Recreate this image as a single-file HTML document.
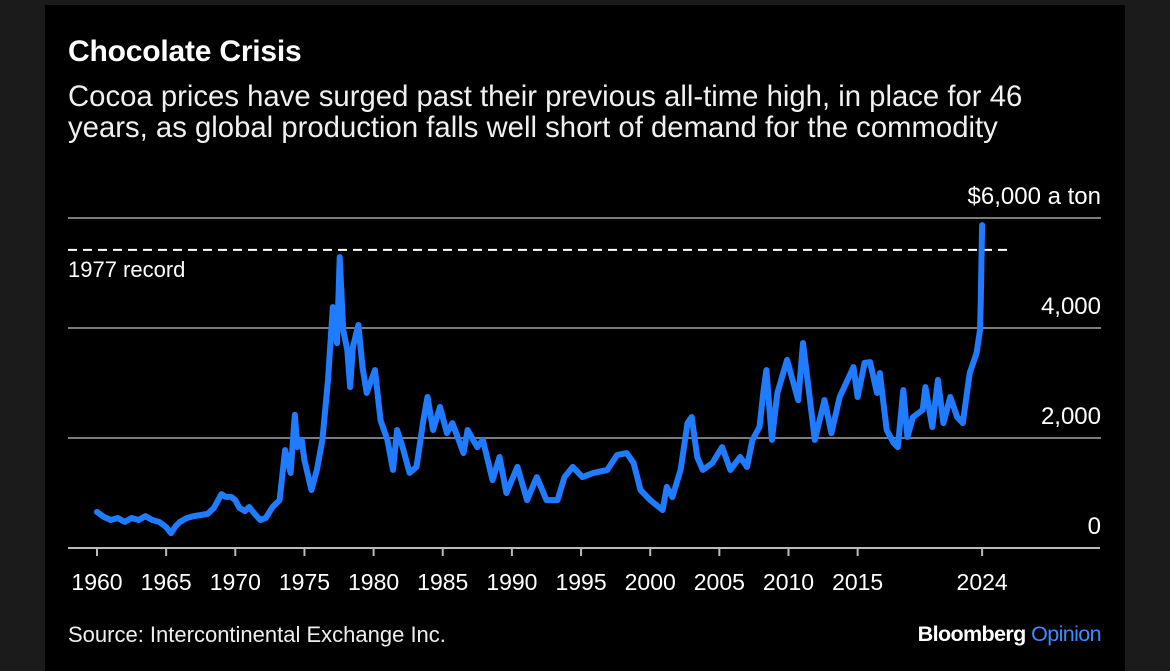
<!DOCTYPE html>
<html><head><meta charset="utf-8"><style>
body{margin:0;width:1170px;height:671px;background:#1b1b1b;overflow:hidden;font-family:"Liberation Sans",sans-serif;}
#panel{position:absolute;left:45px;top:5px;width:1080px;height:666px;background:#000;}
.t{position:absolute;color:#fff;white-space:nowrap;}
</style></head><body>
<div id="panel"></div>
<div class="t" style="left:68px;top:35px;font-size:30px;font-weight:bold;letter-spacing:-0.2px;">Chocolate Crisis</div>
<div class="t" style="left:68px;top:81px;font-size:29.3px;line-height:31px;color:#f0f0f0;">Cocoa prices have surged past their previous all-time high, in place for 46<br>years, as global production falls well short of demand for the commodity</div>
<svg id="chart" width="1170" height="671" style="position:absolute;left:0;top:0;"></svg>
<div class="t" style="left:68px;top:622px;font-size:22px;color:#eee;">Source: Intercontinental Exchange Inc.</div>
<div class="t" style="right:69px;top:622px;font-size:21.5px;font-weight:bold;letter-spacing:-0.6px;">Bloomberg <span style="color:#3d8bff;font-weight:normal;">Opinion</span></div>
<script>
const years=[1960.0,1960.5,1961.0,1961.5,1962.0,1962.5,1963.0,1963.5,1964.0,1964.5,1965.0,1965.35,1965.7,1966.0,1966.5,1967.0,1967.5,1968.0,1968.45,1969.0,1969.3,1969.7,1970.0,1970.3,1970.7,1971.0,1971.4,1971.8,1972.2,1972.7,1973.2,1973.6,1974.0,1974.3,1974.5,1974.8,1975.0,1975.5,1975.9,1976.3,1976.7,1977.05,1977.35,1977.55,1977.8,1978.1,1978.3,1978.5,1978.9,1979.2,1979.5,1980.1,1980.5,1981.0,1981.4,1981.7,1982.1,1982.6,1983.1,1983.6,1983.9,1984.3,1984.8,1985.3,1985.7,1986.5,1986.8,1987.5,1987.9,1988.6,1989.1,1989.6,1990.4,1991.1,1991.8,1992.5,1993.3,1993.8,1994.4,1995.1,1995.9,1996.9,1997.6,1998.3,1998.8,1999.3,2000.0,2000.9,2001.2,2001.6,2002.2,2002.7,2003.0,2003.4,2003.8,2004.5,2005.2,2005.8,2006.5,2007.0,2007.4,2007.9,2008.2,2008.4,2008.8,2009.2,2009.9,2010.3,2010.7,2011.05,2011.4,2011.9,2012.6,2013.1,2013.7,2014.7,2015.0,2015.5,2015.9,2016.4,2016.6,2017.1,2017.6,2017.9,2018.3,2018.6,2019.0,2019.7,2019.9,2020.4,2020.8,2021.2,2021.7,2022.2,2022.6,2023.1,2023.6,2023.85,2023.9,2024.0];
const prices=[655,565,510,545,475,545,510,580,510,475,380,270,400,475,545,580,600,620,730,980,930,930,870,730,670,745,620,510,545,745,870,1780,1365,2420,1835,1965,1600,1055,1420,1965,3055,4380,3725,5290,3965,3600,2925,3655,4055,3290,2820,3235,2325,1965,1420,2145,1835,1365,1475,2325,2745,2145,2565,2090,2270,1725,2145,1835,1965,1235,1655,1000,1475,870,1290,870,870,1290,1475,1290,1365,1420,1690,1725,1545,1055,870,690,1110,925,1420,2270,2380,1655,1420,1545,1835,1420,1655,1475,1965,2200,2870,3235,1965,2820,3420,3055,2690,3725,3000,1965,2690,2090,2745,3290,2745,3365,3380,2820,3180,2145,1910,1835,2870,2020,2380,2510,2925,2200,3055,2270,2745,2380,2270,3180,3545,3965,4420,5870];
const yTicks=[0,2000,4000,6000];
const yTickLabels=["0","2,000","4,000","$6,000 a ton"];
const xTicks=[1960,1965,1970,1975,1980,1985,1990,1995,2000,2005,2010,2015,2024];
const record=5420;
const NS="http://www.w3.org/2000/svg";
const svg=document.getElementById('chart');
const X=v=>97+(v-1960)*13.83;
const Y=v=>548-v*0.055;
function mk(t,a){const e=document.createElementNS(NS,t);for(const k in a)e.setAttribute(k,a[k]);svg.appendChild(e);return e;}
yTicks.forEach((v,i)=>{
  if(v>0){const g=mk('line',{x1:68,x2:1101,y1:Y(v),y2:Y(v),stroke:'#7a7a7a','stroke-width':2});
  
  }
  const t=mk('text',{x:1101,y:Y(v)-14,'text-anchor':'end',fill:'#fff','font-size':24,'font-family':'Liberation Sans, sans-serif'});
  t.textContent=yTickLabels[i];
  
  
});
const base=mk('line',{x1:68,x2:1100,y1:Y(0),y2:Y(0),stroke:'#bbb','stroke-width':2});


xTicks.forEach(v=>{
  const tk=mk('line',{x1:X(v),x2:X(v),y1:Y(0),y2:Y(0)+8,stroke:'#bbb','stroke-width':2});
  
  
  const t=mk('text',{x:X(v),y:590,'text-anchor':'middle',fill:'#fff','font-size':23,'font-family':'Liberation Sans, sans-serif'});
  t.textContent=v;
  
  
});
const rl=mk('line',{x1:68,x2:1013,y1:Y(record),y2:Y(record),stroke:'#fff','stroke-width':2,'stroke-dasharray':'9,6'});


const rt=mk('text',{x:68,y:Y(record)+27,fill:'#fff','font-size':22,'font-family':'Liberation Sans, sans-serif'});
rt.textContent='1977 record';


const d=years.map((y,i)=>(i?'L':'M')+X(y).toFixed(1)+','+Y(prices[i]).toFixed(1)).join('');
const p=mk('path',{d:d,fill:'none',stroke:'#1f7bff','stroke-width':6,'stroke-linejoin':'round','stroke-linecap':'round'});


</script>
</body></html>
